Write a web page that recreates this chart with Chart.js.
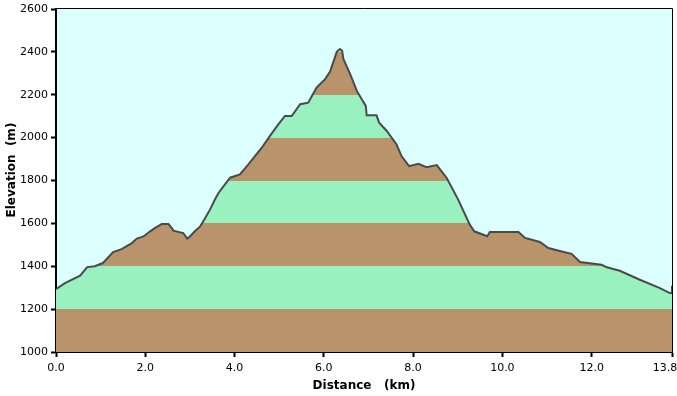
<!DOCTYPE html>
<html>
<head>
<meta charset="utf-8">
<script src="https://cdn.jsdelivr.net/npm/chart.js@4/dist/chart.umd.min.js"></script>
<style>
  html, body { margin: 0; padding: 0; background: #ffffff; }
  #wrap { width: 677px; height: 396px; }
</style>
</head>
<body>
<div id="wrap"><canvas id="c" width="677" height="396"></canvas></div>
<script>
// ---- data ----
const distanceKm = [
  0.00, 0.20, 0.54, 0.70, 0.87, 1.05, 1.28, 1.47, 1.70, 1.81, 1.96, 2.11, 2.22, 2.37, 2.52,
  2.59, 2.63, 2.85, 2.94, 3.00, 3.11, 3.23, 3.30, 3.45, 3.56, 3.64, 3.90, 4.12, 4.31, 4.61,
  4.79, 4.98, 5.13, 5.28, 5.47, 5.65, 5.84, 6.03, 6.14, 6.29, 6.36, 6.41, 6.44, 6.59, 6.74,
  6.85, 6.94, 6.96, 7.18, 7.24, 7.41, 7.63, 7.74, 7.91, 8.12, 8.30, 8.53, 8.75, 9.01, 9.27,
  9.37, 9.66, 9.72, 10.36, 10.51, 10.84, 11.03, 11.33, 11.55, 11.74, 12.22, 12.34, 12.63,
  13.08, 13.53, 13.75, 13.80, 13.80
];
const elevationM = [
  1293, 1321, 1356, 1396, 1400, 1415, 1466, 1480, 1508, 1529, 1539, 1563, 1579, 1597, 1597,
  1579, 1566, 1555, 1529, 1539, 1563, 1586, 1610, 1664, 1711, 1742, 1813, 1828, 1875, 1953,
  2007, 2062, 2101, 2101, 2156, 2163, 2234, 2273, 2308, 2400, 2413, 2405, 2366, 2296, 2218,
  2179, 2148, 2104, 2104, 2070, 2031, 1968, 1914, 1867, 1878, 1862, 1872, 1813, 1711, 1594,
  1563, 1540, 1560, 1560, 1532, 1513, 1485, 1469, 1458, 1420, 1407, 1395, 1379,
  1337, 1298, 1275, 1275, 1309
];
const xTickValues = [0, 2, 4, 6, 8, 10, 12, 13.8];
const xTickLabels = ['0.0', '2.0', '4.0', '6.0', '8.0', '10.0', '12.0', '13.8'];
const bandEdges = [1000, 1200, 1400, 1600, 1800, 2000, 2200, 2400, 2600];
const yMin = 1000, yMax = 2600, yStep = 200;
const xMin = 0, xMax = 13.8;

// ---- styles ----
const BROWN = '#B99369';
const GREEN = '#99F1BF';
const PLOT_BG = '#DCFFFF';
const LINE = '#4A4A4A';

const points = distanceKm.map((d, i) => ({ x: d, y: elevationM[i] }));

function bandFill(ctx) {
  const chart = ctx.chart;
  const area = chart.chartArea;
  if (!area) return BROWN;
  const ys = chart.scales.y;
  const p0 = ys.getPixelForValue(yMin);
  const p1 = ys.getPixelForValue(yMax);
  const g = chart.ctx.createLinearGradient(0, p0, 0, p1);
  for (let i = 0; i < bandEdges.length - 1; i++) {
    const col = i % 2 === 0 ? BROWN : GREEN;
    const t0 = (ys.getPixelForValue(bandEdges[i]) - p0) / (p1 - p0);
    const t1 = (ys.getPixelForValue(bandEdges[i + 1]) - p0) / (p1 - p0);
    g.addColorStop(Math.min(1, Math.max(0, t0)), col);
    g.addColorStop(Math.min(1, Math.max(0, t1)), col);
  }
  return g;
}

const plotFrame = {
  id: 'plotFrame',
  beforeDraw(chart) {
    const { ctx, chartArea: a } = chart;
    ctx.save();
    ctx.fillStyle = PLOT_BG;
    ctx.fillRect(a.left, a.top, a.right - a.left, a.bottom - a.top);
    ctx.restore();
  },
  afterDraw(chart) {
    const { ctx, chartArea: a } = chart;
    ctx.save();
    ctx.strokeStyle = '#000000';
    ctx.lineWidth = 1;
    ctx.beginPath();
    ctx.moveTo(a.left, Math.round(a.top) - 0.5);
    ctx.lineTo(Math.round(a.right) + 0.5, Math.round(a.top) - 0.5);
    ctx.lineTo(Math.round(a.right) + 0.5, a.bottom);
    ctx.stroke();
    ctx.restore();
  }
};

new Chart(document.getElementById('c'), {
  type: 'line',
  data: {
    datasets: [{
      data: points,
      borderColor: LINE,
      borderWidth: 2,
      backgroundColor: bandFill,
      fill: 'start',
      pointRadius: 0,
      tension: 0
    }]
  },
  plugins: [plotFrame],
  options: {
    responsive: false,
    animation: false,
    devicePixelRatio: 1,
    layout: { padding: { top: 9, right: 5, left: 0, bottom: 0 } },
    plugins: { legend: { display: false }, tooltip: { enabled: false } },
    scales: {
      x: {
        type: 'linear',
        min: xMin,
        max: xMax,
        afterBuildTicks(scale) { scale.ticks = xTickValues.map(v => ({ value: v })); },
        afterFit(scale) { scale.height = 44; scale.paddingLeft = 0; scale.paddingRight = 0; },
        grid: { drawOnChartArea: false, drawTicks: true, tickLength: 5, tickColor: '#000', tickWidth: 2 },
        border: { display: true, color: '#000', width: 2 },
        ticks: {
          color: '#000',
          font: { family: 'DejaVu Sans', size: 11 },
          padding: 5,
          maxRotation: 0,
          autoSkip: false,
          callback(value, index) {
            const lbl = xTickLabels[index];
            return index === xTickLabels.length - 1 ? lbl + '\u2007\u2007' : lbl;
          }
        },
        title: {
          display: true,
          text: 'Distance   (km)',
          color: '#000',
          font: { family: 'DejaVu Sans', size: 12, weight: 'bold' },
          padding: { top: 0, bottom: 3 }
        }
      },
      y: {
        min: yMin,
        max: yMax,
        afterFit(scale) { scale.width = 56; scale.paddingTop = 0; scale.paddingBottom = 0; },
        grid: { drawOnChartArea: false, drawTicks: true, tickLength: 5, tickColor: '#000', tickWidth: 2 },
        border: { display: true, color: '#000', width: 2 },
        ticks: {
          stepSize: yStep,
          color: '#000',
          font: { family: 'DejaVu Sans', size: 11 },
          padding: 3,
          autoSkip: false,
          callback(value) { return String(value); }
        },
        title: {
          display: true,
          text: '     Elevation  (m)',
          color: '#000',
          font: { family: 'DejaVu Sans', size: 12, weight: 'bold' },
          padding: { top: 5, bottom: 0 }
        }
      }
    }
  }
});
</script>
</body>
</html>
